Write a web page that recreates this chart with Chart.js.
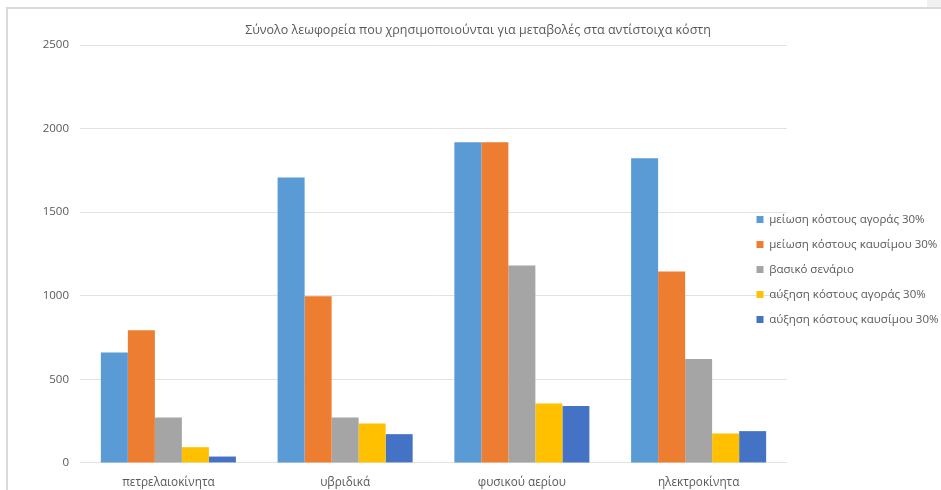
<!DOCTYPE html>
<html>
<head>
<meta charset="utf-8">
<script src="https://cdn.jsdelivr.net/npm/chart.js@4.4.1/dist/chart.umd.min.js"></script>
<style>
  html, body { margin: 0; padding: 0; background: #fff; }
  #wrap { position: relative; width: 941px; height: 490px; overflow: hidden; }
  #frame { position: absolute; left: 6px; top: 7px; width: 960px; height: 520px; border: 1px solid #dadada; border-width: 2px 0 0 2px; }
  #corner { position: absolute; left: 927px; top: 0; width: 14px; height: 7px; background: #f1f1f1; }
  #chartBox { position: absolute; left: 0; top: 0; width: 941px; height: 490px; }
</style>
</head>
<body>
<div id="wrap">
  <div id="frame"></div>
  <div id="corner"></div>
  <div id="chartBox"><canvas id="busChart"></canvas></div>
</div>
<script>
// Data
const categories = ['πετρελαιοκίνητα', 'υβριδικά', 'φυσικού αερίου', 'ηλεκτροκίνητα'];
const seriesNames = [
    'μείωση κόστους αγοράς 30%',
    'μείωση κόστους καυσίμου 30%',
    'βασικό σενάριο',
    'αύξηση κόστους αγοράς 30%',
    'αύξηση κόστους καυσίμου 30%'
];
const purchaseDown = [660, 1707, 1918, 1823];
const fuelDown = [793, 997, 1918, 1145];
const baseline = [272, 272, 1181, 622];
const purchaseUp = [94, 236, 356, 176];
const fuelUp = [38, 172, 340, 190];
const yTicks = [0, 500, 1000, 1500, 2000, 2500];

const colors = ['#5B9BD5', '#ED7D31', '#A5A5A5', '#FFC000', '#4472C4'];
const values = [purchaseDown, fuelDown, baseline, purchaseUp, fuelUp];

const textColor = '#595959';
const fontFamily = '"Open Sans", "Noto Sans", sans-serif';

// Excel draws the legend partly over the plot area; shrink the space
// Chart.js reserves for it, then widen it to the left / move down after layout.
const legendOverlap = {
    id: 'legendOverlap',
    beforeLayout(chart) {
        const lg = chart.legend;
        if (lg && !lg._patched) {
            const origFit = lg.fit.bind(lg);
            lg.fit = function () {
                origFit();
                this.width = 154;
            };
            lg._patched = true;
        }
    },
    afterLayout(chart) {
        const lg = chart.legend;
        lg.left -= 44;
        lg.width += 44;
        lg.top += 16.5;
        lg.bottom += 16.5;
    }
};

const ctx = document.getElementById('busChart').getContext('2d');

new Chart(ctx, {
    type: 'bar',
    data: {
        labels: categories,
        datasets: seriesNames.map((name, i) => ({
            label: name,
            data: values[i],
            backgroundColor: colors[i],
            borderWidth: 0,
            categoryPercentage: 0.764,
            barPercentage: 1.0
        }))
    },
    options: {
        responsive: true,
        maintainAspectRatio: false,
        animation: false,
        layout: {
            padding: { top: 11, left: 15, right: 0, bottom: -5 }
        },
        scales: {
            x: {
                grid: { display: false },
                border: { display: false },
                ticks: {
                    color: textColor,
                    font: { family: fontFamily, size: 11.75 },
                    padding: 5
                }
            },
            y: {
                min: 0,
                max: 2500,
                afterBuildTicks: axis => {
                    axis.ticks = yTicks.map(v => ({ value: v }));
                },
                afterFit: axis => {
                    axis.width = 65;
                },
                grid: {
                    color: '#e2e2e2',
                    drawTicks: false
                },
                border: { display: false },
                ticks: {
                    color: textColor,
                    font: { family: fontFamily, size: 11.5 },
                    padding: 11,
                    callback: value => String(value)
                }
            }
        },
        plugins: {
            title: {
                display: true,
                text: 'Σύνολο λεωφορεία που χρησιμοποιούνται για μεταβολές στα αντίστοιχα κόστη',
                color: textColor,
                font: { family: fontFamily, size: 12.5, weight: 'normal' },
                padding: { top: 11.5, bottom: 7.5 }
            },
            legend: {
                position: 'right',
                labels: {
                    color: textColor,
                    font: { family: fontFamily, size: 11.5 },
                    boxWidth: 7,
                    boxHeight: 7,
                    padding: 13.5
                }
            },
            tooltip: { enabled: false }
        }
    },
    plugins: [legendOverlap]
});
</script>
</body>
</html>
